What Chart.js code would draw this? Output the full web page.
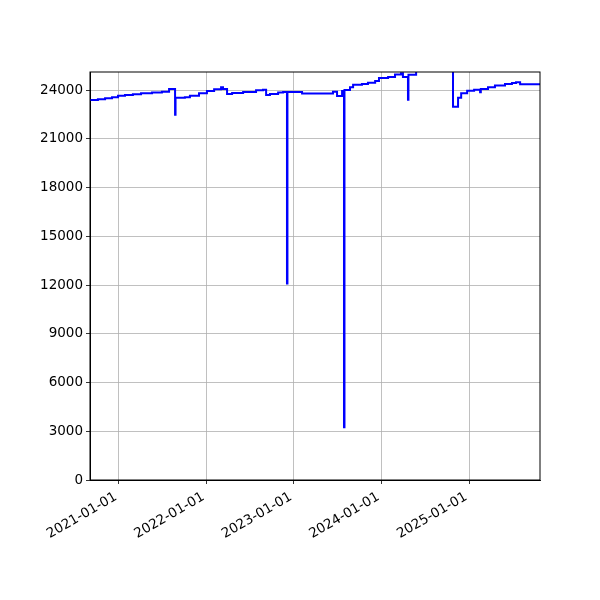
<!DOCTYPE html>
<html>
<head>
<meta charset="utf-8">
<script src="https://cdn.jsdelivr.net/npm/chart.js@4/dist/chart.umd.min.js"></script>
<style>
  html, body { margin: 0; padding: 0; background: #fff; }
  #wrap { width: 600px; height: 600px; }
</style>
</head>
<body>
<div id="wrap"><canvas id="chart" width="600" height="600"></canvas></div>
<script>
// step dates and values
const dates = [
  "2020-09-02", "2020-10-05", "2020-11-04", "2020-12-03", "2020-12-28",
  "2021-01-26", "2021-02-28", "2021-04-03", "2021-05-19", "2021-06-29",
  "2021-07-29", "2021-08-23", "2021-08-25", "2021-10-03", "2021-10-24",
  "2021-12-01", "2022-01-03", "2022-02-02", "2022-03-03", "2022-03-11",
  "2022-03-28", "2022-04-18", "2022-06-03", "2022-07-27", "2022-08-25",
  "2022-09-07", "2022-09-23", "2022-10-27", "2022-11-17", "2022-12-03",
  "2022-12-05", "2023-02-04", "2023-06-13", "2023-06-30", "2023-07-21",
  "2023-07-29", "2023-07-31", "2023-08-23", "2023-09-05", "2023-10-12",
  "2023-11-06", "2023-12-06", "2023-12-22", "2024-01-29", "2024-02-27",
  "2024-03-23", "2024-03-31", "2024-04-21", "2024-04-23", "2024-05-25",
  "2024-10-26", "2024-11-16", "2024-11-29", "2024-12-24", "2025-01-22",
  "2025-02-16", "2025-02-19", "2025-03-21", "2025-04-19", "2025-05-31",
  "2025-06-29", "2025-07-16", "2025-08-02", "2025-10-24"
]
const values = [
  23380, 23430, 23500, 23560, 23640,
  23700, 23740, 23800, 23850, 23900,
  24060, 22480, 23520, 23560, 23650,
  23800, 23940, 24040, 24170, 24060,
  23750, 23810, 23880, 23980, 24010,
  23690, 23750, 23850, 23880, 12100,
  23880, 23780, 23900, 23630, 23940,
  3250, 24000, 24170, 24330, 24370,
  24450, 24550, 24740, 24800, 24960,
  25030, 24800, 23400, 24940, 25400,
  22970, 23530, 23800, 23960, 24020,
  23860, 24060, 24170, 24270, 24370,
  24430, 24470, 24350, 24350
]
const xTickDates = ["2021-01-01", "2022-01-01", "2023-01-01", "2024-01-01", "2025-01-01"]
const yTicks = [0, 3000, 6000, 9000, 12000, 15000, 18000, 21000, 24000]
const xMin = "2020-09-02"
const xMax = "2025-10-24"
const yMax = 25108

const ms = d => Date.parse(d + "T00:00:00Z")
const points = dates.map((d, i) => ({ x: ms(d), y: values[i] }))

function fmtDate(v) {
  return new Date(v).toISOString().slice(0, 10)
}

// matplotlib draws all four spines
const frame = {
  id: "frame",
  afterDraw(chart) {
    const a = chart.chartArea, ctx = chart.ctx
    ctx.save()
    ctx.strokeStyle = "#000"
    ctx.lineWidth = 1
    ctx.strokeRect(a.left, a.top, a.right - a.left, a.bottom - a.top)
    ctx.restore()
  }
}

new Chart(document.getElementById("chart"), {
  type: "line",
  data: {
    datasets: [{
      data: points,
      borderColor: "#0000ff",
      borderWidth: 2,
      pointRadius: 0,
      stepped: "before",
      fill: false
    }]
  },
  options: {
    responsive: false,
    animation: false,
    layout: { padding: { top: 72, right: 60, left: 0, bottom: 0 } },
    plugins: { legend: { display: false }, tooltip: { enabled: false } },
    scales: {
      x: {
        type: "linear",
        min: ms(xMin),
        max: ms(xMax),
        afterBuildTicks: s => { s.ticks = xTickDates.map(d => ({ value: ms(d) })) },
        afterFit: s => { s.height = 120 },
        grid: { color: "#b0b0b0", lineWidth: 0.8, tickColor: "#000", tickLength: 4 },
        border: { color: "#000" },
        ticks: {
          color: "#000",
          font: { family: "DejaVu Sans", size: 13.5 },
          minRotation: 30,
          maxRotation: 30,
          padding: 5,
          labelOffset: -3,
          callback: v => fmtDate(v)
        }
      },
      y: {
        min: 0,
        max: yMax,
        afterBuildTicks: s => { s.ticks = yTicks.map(v => ({ value: v })) },
        afterFit: s => { s.width = 90 },
        grid: { color: "#b0b0b0", lineWidth: 0.8, tickColor: "#000", tickLength: 4 },
        border: { color: "#000" },
        ticks: {
          color: "#000",
          font: { family: "DejaVu Sans", size: 13.5 },
          padding: 3,
          callback: v => String(v)
        }
      }
    }
  },
  plugins: [frame]
})
</script>
</body>
</html>
